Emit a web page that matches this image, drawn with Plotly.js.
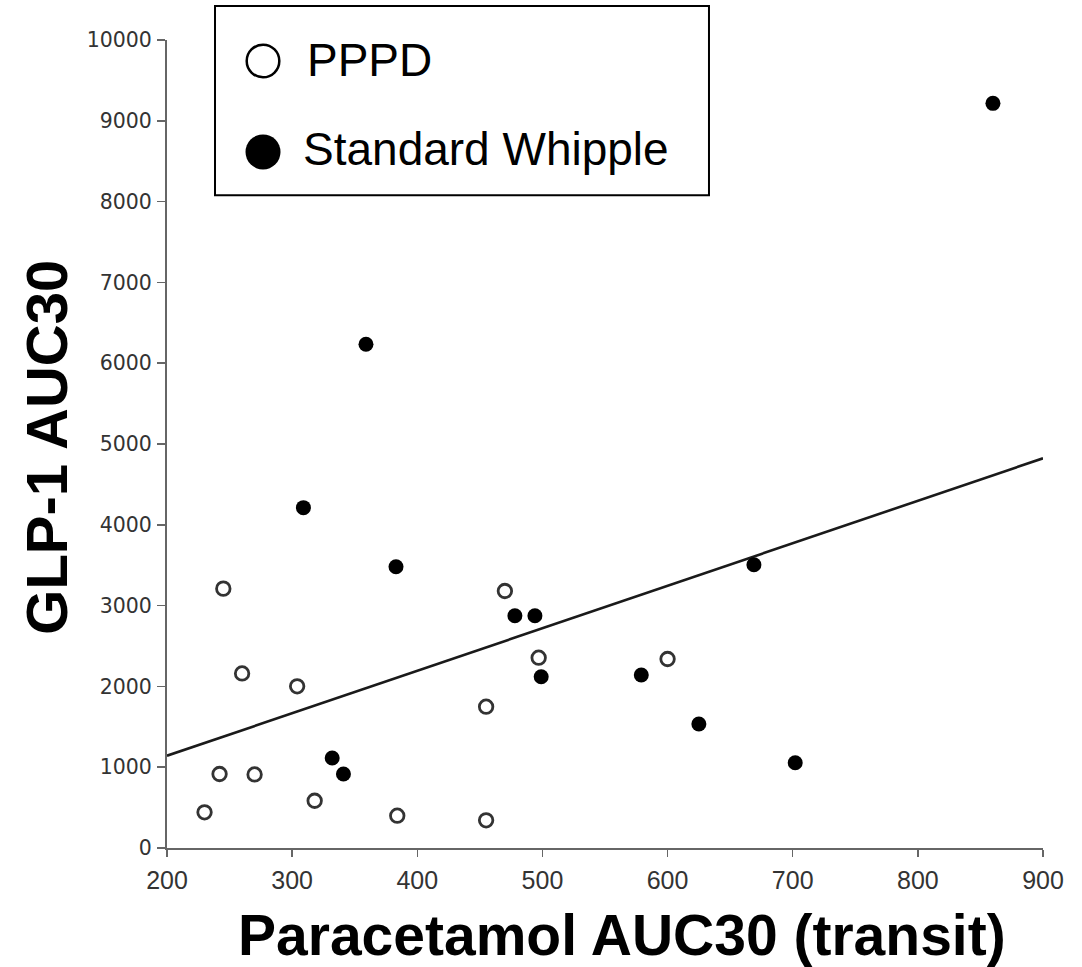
<!DOCTYPE html>
<html>
<head>
<meta charset="utf-8">
<script src="https://cdn.plot.ly/plotly-3.0.1.min.js"></script>
<style>
  html, body { margin: 0; padding: 0; background: #fff; }
  #chart { width: 1082px; height: 967px; }
</style>
</head>
<body>
<div id="chart"></div>
<script>
// Paracetamol AUC30 (transit) vs GLP-1 AUC30, by operation type
const pppdX = [245, 260, 304, 242, 270, 230, 318, 384, 470, 497, 600, 455, 455];
const pppdY = [3210, 2160, 2001, 916, 910, 442, 585, 400, 3181, 2355, 2339, 1749, 343];

const whippleX = [383, 332, 341, 478, 494, 499, 579, 625, 669, 702, 359, 309, 860];
const whippleY = [3481, 1114, 916, 2875, 2875, 2120, 2141, 1535, 3506, 1056, 6234, 4212, 9216];

// Linear fit across all patients
const fitX = [200, 900];
const fitY = [1142, 4823];

const xTicks = [200, 300, 400, 500, 600, 700, 800, 900];
const yTicks = [0, 1000, 2000, 3000, 4000, 5000, 6000, 7000, 8000, 9000, 10000];

const legendNames = ['PPPD', 'Standard Whipple'];

const traces = [
  {
    x: fitX, y: fitY, type: 'scatter', mode: 'lines',
    line: { color: '#1a1a1a', width: 2.6 },
    showlegend: false, hoverinfo: 'skip'
  },
  {
    x: pppdX, y: pppdY, type: 'scatter', mode: 'markers', name: legendNames[0],
    marker: { symbol: 'circle-open', size: 13.5, color: '#333', line: { color: '#333', width: 2.8 } },
    showlegend: false
  },
  {
    x: whippleX, y: whippleY, type: 'scatter', mode: 'markers', name: legendNames[1],
    marker: { symbol: 'circle', size: 15, color: '#000', line: { width: 0 } },
    showlegend: false
  }
];

const axisLine = '#666';

const layout = {
  width: 1082, height: 967,
  margin: { l: 167, r: 39, t: 40, b: 119, pad: 0 },
  paper_bgcolor: '#fff', plot_bgcolor: '#fff',
  showlegend: false,
  xaxis: {
    range: [200, 900], tickvals: xTicks, ticktext: xTicks.map(String),
    showgrid: false, zeroline: false,
    showline: true, linecolor: axisLine, linewidth: 2,
    ticks: 'outside', ticklen: 7, tickwidth: 1.5, tickcolor: axisLine,
    tickfont: { family: 'Liberation Sans, Arial, sans-serif', size: 25, color: '#333' },
    ticklabelstandoff: 2
  },
  yaxis: {
    range: [0, 10000], tickvals: yTicks, ticktext: yTicks.map(String),
    showgrid: false, zeroline: false,
    showline: true, linecolor: axisLine, linewidth: 2,
    ticks: 'outside', ticklen: 8, tickwidth: 1.5, tickcolor: axisLine,
    tickfont: { family: 'DejaVu Sans, sans-serif', size: 20.5, color: '#333' },
    ticklabelstandoff: 1
  },
  annotations: [
    {
      text: 'GLP-1 AUC30', xref: 'paper', yref: 'paper',
      x: -0.1376, y: 0.496, textangle: -90, showarrow: false,
      xanchor: 'center', yanchor: 'middle',
      font: { family: 'Liberation Sans, Arial, sans-serif', size: 58, color: '#000', weight: 'bold' }
    },
    {
      text: 'Paracetamol AUC30 (transit)', xref: 'paper', yref: 'paper',
      x: 0.519, y: -0.108, showarrow: false,
      xanchor: 'center', yanchor: 'middle',
      font: { family: 'Liberation Sans, Arial, sans-serif', size: 57, color: '#000', weight: 'bold' }
    },
    {
      text: legendNames[0], xref: 'paper', yref: 'paper',
      x: 0.1575, y: 0.975, showarrow: false, xanchor: 'left', yanchor: 'middle',
      font: { family: 'Liberation Sans, Arial, sans-serif', size: 46, color: '#000' }
    },
    {
      text: legendNames[1], xref: 'paper', yref: 'paper',
      x: 0.1530, y: 0.8645, showarrow: false, xanchor: 'left', yanchor: 'middle',
      font: { family: 'Liberation Sans, Arial, sans-serif', size: 46, color: '#000' }
    }
  ],
  shapes: [
    // legend frame
    {
      type: 'rect', xref: 'paper', yref: 'paper',
      x0: 0.0548, x1: 0.6187, y0: 0.808, y1: 1.042,
      line: { color: '#000', width: 2 }, fillcolor: 'rgba(0,0,0,0)'
    },
    // legend symbol: open circle
    {
      type: 'circle', xref: 'paper', yref: 'paper',
      xsizemode: 'pixel', ysizemode: 'pixel',
      xanchor: 0.1096, yanchor: 0.9740,
      x0: -16.3, x1: 16.3, y0: -16.3, y1: 16.3,
      line: { color: '#000', width: 2.5 }, fillcolor: 'rgba(0,0,0,0)'
    },
    // legend symbol: filled circle
    {
      type: 'circle', xref: 'paper', yref: 'paper',
      xsizemode: 'pixel', ysizemode: 'pixel',
      xanchor: 0.1096, yanchor: 0.8614,
      x0: -17.5, x1: 17.5, y0: -17.5, y1: 17.5,
      line: { color: '#000', width: 0 }, fillcolor: '#000'
    }
  ]
};

Plotly.newPlot('chart', traces, layout, { displayModeBar: false, staticPlot: true });
</script>
</body>
</html>
